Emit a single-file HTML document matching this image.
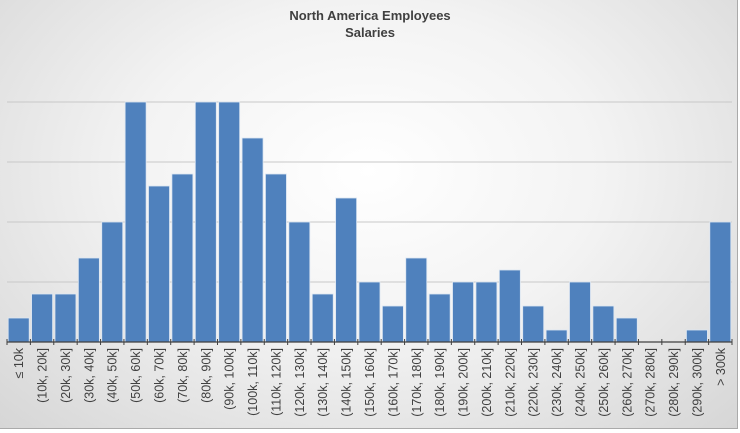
<!DOCTYPE html>
<html><head><meta charset="utf-8"><style>
html,body{margin:0;padding:0;}
body{width:740px;height:430px;overflow:hidden;font-family:"Liberation Sans",sans-serif;}
#chart{position:absolute;left:0;top:0;width:737px;height:428px;background:radial-gradient(ellipse at 50% 40%,#ffffff 0%,#f3f3f3 45%,#d6d6d6 100%);border-right:1px solid #aaa;border-bottom:1px solid #aaa;}
</style></head><body>
<div id="chart">
<svg id="svg" width="737" height="428">
<text x="370" y="20" text-anchor="middle" font-size="13" font-weight="bold" fill="#404040">North America Employees</text>
<text x="370" y="37" text-anchor="middle" font-size="13" font-weight="bold" fill="#404040">Salaries</text>
<g id="grid"></g><g id="bars"></g><g id="axis"></g>
</svg></div>
<script>
const categories=["≤ 10k","(10k, 20k]","(20k, 30k]","(30k, 40k]","(40k, 50k]","(50k, 60k]","(60k, 70k]","(70k, 80k]","(80k, 90k]","(90k, 100k]","(100k, 110k]","(110k, 120k]","(120k, 130k]","(130k, 140k]","(140k, 150k]","(150k, 160k]","(160k, 170k]","(170k, 180k]","(180k, 190k]","(190k, 200k]","(200k, 210k]","(210k, 220k]","(220k, 230k]","(230k, 240k]","(240k, 250k]","(250k, 260k]","(260k, 270k]","(270k, 280k]","(280k, 290k]","(290k, 300k]","> 300k"];
const counts=[2,4,4,7,10,20,13,14,20,20,17,14,10,4,12,5,3,7,4,5,5,6,3,1,5,3,2,0,0,1,10];
const gridTicks=[5,10,15,20];
const NS="http://www.w3.org/2000/svg";
const x0=7,x1=732,base=342,unit=12;
const bw=(x1-x0)/categories.length;
const xs=i=>x0+i*bw;
const ys=v=>base-v*unit;
const grid=document.getElementById('grid'),bars=document.getElementById('bars'),axis=document.getElementById('axis');
gridTicks.forEach(t=>{const l=document.createElementNS(NS,'line');


l.setAttribute('x1',x0);l.setAttribute('x2',x1);l.setAttribute('y1',ys(t));l.setAttribute('y2',ys(t));l.setAttribute('stroke','#c8c8c8');l.setAttribute('stroke-width','1');grid.appendChild(l);});
categories.forEach((c,i)=>{
const r=document.createElementNS(NS,'rect');


r.setAttribute('x',xs(i)+1.2);r.setAttribute('width',bw-2.4);r.setAttribute('y',ys(counts[i]));r.setAttribute('height',base-ys(counts[i]));
r.setAttribute('fill','#4f81bd');r.setAttribute('stroke','#dce6f2');r.setAttribute('stroke-width','0.8');bars.appendChild(r);
const t=document.createElementNS(NS,'text');


const cx=xs(i)+bw/2+4.5;
t.setAttribute('transform','translate('+cx+',348) rotate(-90)');
t.setAttribute('text-anchor','end');t.setAttribute('font-size','12.5');t.setAttribute('fill','#404040');
t.textContent=c;axis.appendChild(t);
});
const ax=document.createElementNS(NS,'line');


ax.setAttribute('x1',x0);ax.setAttribute('x2',x1);ax.setAttribute('y1',base);ax.setAttribute('y2',base);ax.setAttribute('stroke','#404040');ax.setAttribute('stroke-width','1.2');axis.appendChild(ax);
for(let i=0;i<=categories.length;i++){const tk=document.createElementNS(NS,'line');


tk.setAttribute('x1',xs(i));tk.setAttribute('x2',xs(i));tk.setAttribute('y1',base-3);tk.setAttribute('y2',base+3);tk.setAttribute('stroke','#404040');axis.appendChild(tk);}
</script>
</body></html>
